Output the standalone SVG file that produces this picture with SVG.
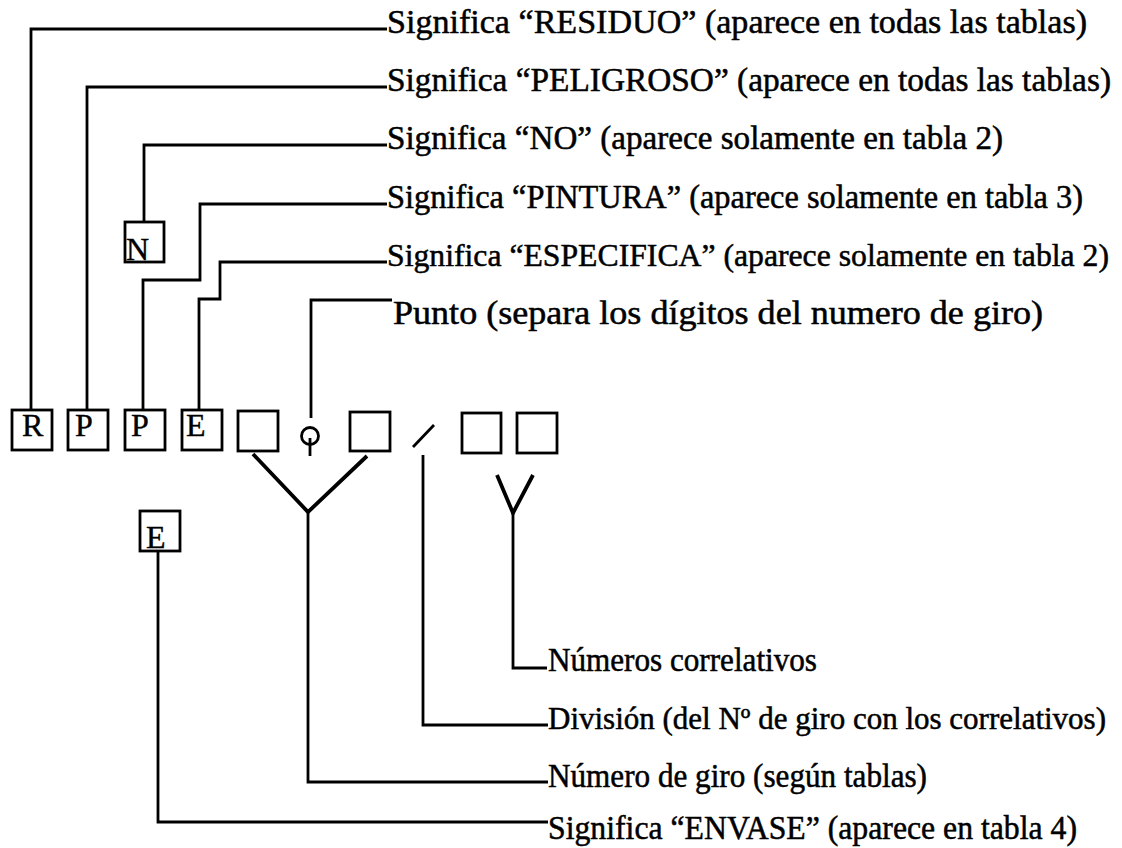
<svg xmlns="http://www.w3.org/2000/svg" width="1122" height="848" viewBox="0 0 1122 848">
<style>
.bg{fill:#fff}
.box{fill:none;stroke:#000;stroke-width:2.8}
.ln{fill:none;stroke:#000;stroke-width:2.8;stroke-linejoin:miter}
.y{fill:none;stroke:#000;stroke-width:3.8;stroke-linejoin:miter}
.lbl{font-family:"Liberation Serif","Times New Roman",serif;font-size:33px;fill:#000;stroke:#000;stroke-width:0.5}
.let{font-family:"Liberation Serif","Times New Roman",serif;font-size:32px;fill:#000;stroke:#000;stroke-width:0.4}
</style>
<rect class="bg" x="0" y="0" width="1122" height="848"/>
<g id="connectors">
<path class="ln" d="M31,410 V29 H387"/>
<path class="ln" d="M87,410 V87 H387"/>
<path class="ln" d="M144,222 V145 H387"/>
<path class="ln" d="M143,410 V280 H200 V204 H387"/>
<path class="ln" d="M199,410 V299 H220 V262 H387"/>
<path class="ln" d="M311,418 V300 H392"/>
<path class="y" d="M253,454 L308,512 L367,456"/>
<path class="ln" d="M308,512 V782 H548"/>
<path class="ln" d="M423,455 V725 H548"/>
<path class="y" d="M497,475 L513,513 L533,475"/>
<path class="ln" d="M513,513 V668 H547"/>
<path class="ln" d="M158,551 V822 H548"/>
</g>
<g id="node-R"><rect class="box" x="12" y="410" width="40" height="40"/><text class="let" x="22" y="436">R</text></g>
<g id="node-P1"><rect class="box" x="68" y="410" width="40" height="40"/><text class="let" x="75" y="436">P</text></g>
<g id="node-P2"><rect class="box" x="125" y="410" width="40" height="40"/><text class="let" x="131" y="436">P</text></g>
<g id="node-E1"><rect class="box" x="182" y="410" width="40" height="40"/><text class="let" x="186" y="436">E</text></g>
<g id="node-B1"><rect class="box" x="238" y="411" width="40" height="40"/></g>
<g id="node-dot"><circle class="box" cx="310" cy="436" r="8.5"/><path class="ln" d="M310,438 V456"/></g>
<g id="node-B2"><rect class="box" x="350" y="412" width="40" height="39"/></g>
<g id="node-slash"><path class="ln" d="M413,447 L434,425" stroke-width="3.4"/></g>
<g id="node-B3"><rect class="box" x="462" y="413" width="39" height="40"/></g>
<g id="node-B4"><rect class="box" x="517" y="413" width="40" height="40"/></g>
<g id="node-N"><rect class="box" x="125" y="222" width="39" height="40"/><text class="let" x="126" y="260">N</text></g>
<g id="node-E2"><rect class="box" x="140" y="511" width="40" height="40"/><text class="let" x="146" y="548">E</text></g>
<g id="labels">
<text class="lbl" x="387" y="33" textLength="700" lengthAdjust="spacingAndGlyphs">Significa “RESIDUO” (aparece en todas las tablas)</text>
<text class="lbl" x="387" y="91" textLength="724" lengthAdjust="spacingAndGlyphs">Significa “PELIGROSO” (aparece en todas las tablas)</text>
<text class="lbl" x="387" y="149" textLength="616" lengthAdjust="spacingAndGlyphs">Significa “NO” (aparece solamente en tabla 2)</text>
<text class="lbl" x="387" y="208" textLength="696" lengthAdjust="spacingAndGlyphs">Significa “PINTURA” (aparece solamente en tabla 3)</text>
<text class="lbl" x="387" y="266" textLength="722" lengthAdjust="spacingAndGlyphs" style="font-size:31.5px">Significa “ESPECIFICA” (aparece solamente en tabla 2)</text>
<text class="lbl" x="393" y="324" textLength="650" lengthAdjust="spacingAndGlyphs">Punto (separa los dígitos del numero de giro)</text>
<text class="lbl" x="548" y="671" textLength="269" lengthAdjust="spacingAndGlyphs">Números correlativos</text>
<text class="lbl" x="548" y="729" textLength="558" lengthAdjust="spacingAndGlyphs" style="font-size:31px">División (del Nº de giro con los correlativos)</text>
<text class="lbl" x="548" y="787" textLength="379" lengthAdjust="spacingAndGlyphs">Número de giro (según tablas)</text>
<text class="lbl" x="548" y="839" textLength="529" lengthAdjust="spacingAndGlyphs">Significa “ENVASE” (aparece en tabla 4)</text>
</g>
</svg>
